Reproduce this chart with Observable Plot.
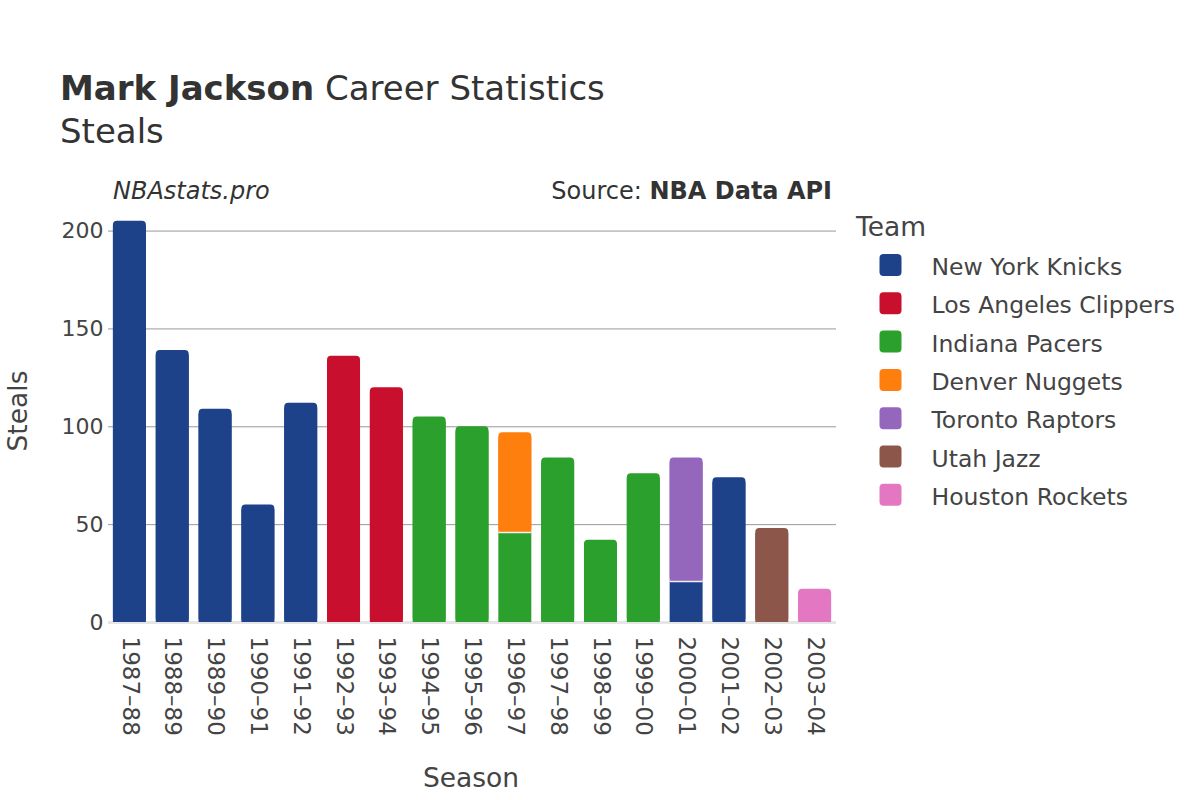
<!DOCTYPE html>
<html><head><meta charset="utf-8">
<script src="https://cdn.jsdelivr.net/npm/d3@7"></script>
<script src="https://cdn.jsdelivr.net/npm/@observablehq/plot@0.6"></script>
<style>
body{margin:0;background:#fff;font-family:"DejaVu Sans",sans-serif;}
#wrap{position:relative;width:1200px;height:800px;}
#wrap svg{position:absolute;left:0;top:0;}
</style></head><body><div id="wrap"></div>
<script>
const seasons = ["1987–88","1988–89","1989–90","1990–91","1991–92","1992–93","1993–94","1994–95","1995–96","1996–97","1997–98","1998–99","1999–00","2000–01","2001–02","2002–03","2003–04"];
const segSeason = ["1987–88","1988–89","1989–90","1990–91","1991–92","1992–93","1993–94","1994–95","1995–96","1996–97","1996–97","1997–98","1998–99","1999–00","2000–01","2000–01","2001–02","2002–03","2003–04"];
const segTeam = ["New York Knicks","New York Knicks","New York Knicks","New York Knicks","New York Knicks","Los Angeles Clippers","Los Angeles Clippers","Indiana Pacers","Indiana Pacers","Indiana Pacers","Denver Nuggets","Indiana Pacers","Indiana Pacers","Indiana Pacers","New York Knicks","Toronto Raptors","New York Knicks","Utah Jazz","Houston Rockets"];
const segSteals = [205,139,109,60,112,136,120,105,100,46,51,84,42,76,21,63,74,48,17];
const teams = ["New York Knicks","Los Angeles Clippers","Indiana Pacers","Denver Nuggets","Toronto Raptors","Utah Jazz","Houston Rockets"];
const teamColors = ["#1d428a","#c8102e","#2ca02c","#ff7f0e","#9467bd","#8c564b","#e377c2"];
const yTicks = [0,50,100,150,200];

const rows = []; const cum = {};
segSeason.forEach((s,i)=>{ const y1 = cum[s]||0; const y2 = y1+segSteals[i]; cum[s]=y2; rows.push({season:s, team:segTeam[i], steals:segSteals[i], y1, y2}); });
rows.forEach(r => r.top = r.y2 === cum[r.season]);

const chart = Plot.plot({
  width:1200, height:800,
  marginLeft:108, marginRight:364, marginTop:211, marginBottom:178,
  x:{domain:seasons, paddingInner:0.23, paddingOuter:0.115, round:false},
  y:{domain:[0,210]},
  color:{domain:teams, range:teamColors},
  style:{fontFamily:"DejaVu Sans", fontSize:"22px", color:"#444", background:"transparent"},
  marks:[
    Plot.ruleY(yTicks.filter(d=>d>0), {stroke:"#999", strokeWidth:1}),
    Plot.ruleY([0], {stroke:"#e6e6e6", strokeWidth:3}),
    Plot.barY(rows.filter(d=>d.top), {x:"season", y1:"y1", y2:"y2", fill:"team", rx:4, inset:0}),
    Plot.barY(rows, {x:"season", y1:"y1", y2:d=>d.top ? Math.max(d.y1, d.y2-2.5) : d.y2, fill:"team", inset:0}),
    Plot.tickY(rows.filter(d=>!d.top), {x:"season", y:"y2", stroke:"#f0f0f0", strokeWidth:1.5}),
    Plot.axisY({ticks:yTicks, tickSize:0, tickPadding:5, label:null}),
    Plot.axisX({tickRotate:90, tickSize:0, tickPadding:14, label:null, fontSize:23})
  ]
});
document.getElementById("wrap").appendChild(chart);

const svg = d3.select("#wrap").append("svg").attr("width",1200).attr("height",800)
  .style("font-family","DejaVu Sans").style("pointer-events","none");
const t = svg.append("text").attr("x",60).attr("y",100).attr("font-size",34).attr("fill","#333");
t.append("tspan").attr("font-weight","bold").text("Mark Jackson");
t.append("tspan").text(" Career Statistics");
svg.append("text").attr("x",60).attr("y",143).attr("font-size",34).attr("fill","#333").text("Steals");
svg.append("text").attr("x",113).attr("y",199).attr("font-size",24).attr("font-style","italic").attr("fill","#333").text("NBAstats.pro");
const s = svg.append("text").attr("x",832).attr("y",199).attr("font-size",24).attr("text-anchor","end").attr("fill","#333");
s.append("tspan").text("Source: ");
s.append("tspan").attr("font-weight","bold").text("NBA Data API");
svg.append("text").attr("transform","translate(27,411) rotate(-90)").attr("text-anchor","middle").attr("font-size",26.5).attr("fill","#444").text("Steals");
svg.append("text").attr("x",471).attr("y",787).attr("text-anchor","middle").attr("font-size",26.5).attr("fill","#444").text("Season");
svg.append("text").attr("x",856).attr("y",236).attr("font-size",26.5).attr("fill","#444").text("Team");
teams.forEach((tm,i)=>{
  svg.append("rect").attr("x",879.5).attr("y",254+i*38.3).attr("width",22).attr("height",22).attr("rx",4).attr("fill",teamColors[i]);
  svg.append("text").attr("x",931.5).attr("y",275+i*38.3).attr("font-size",23.5).attr("fill","#444").text(tm);
});
</script></body></html>
